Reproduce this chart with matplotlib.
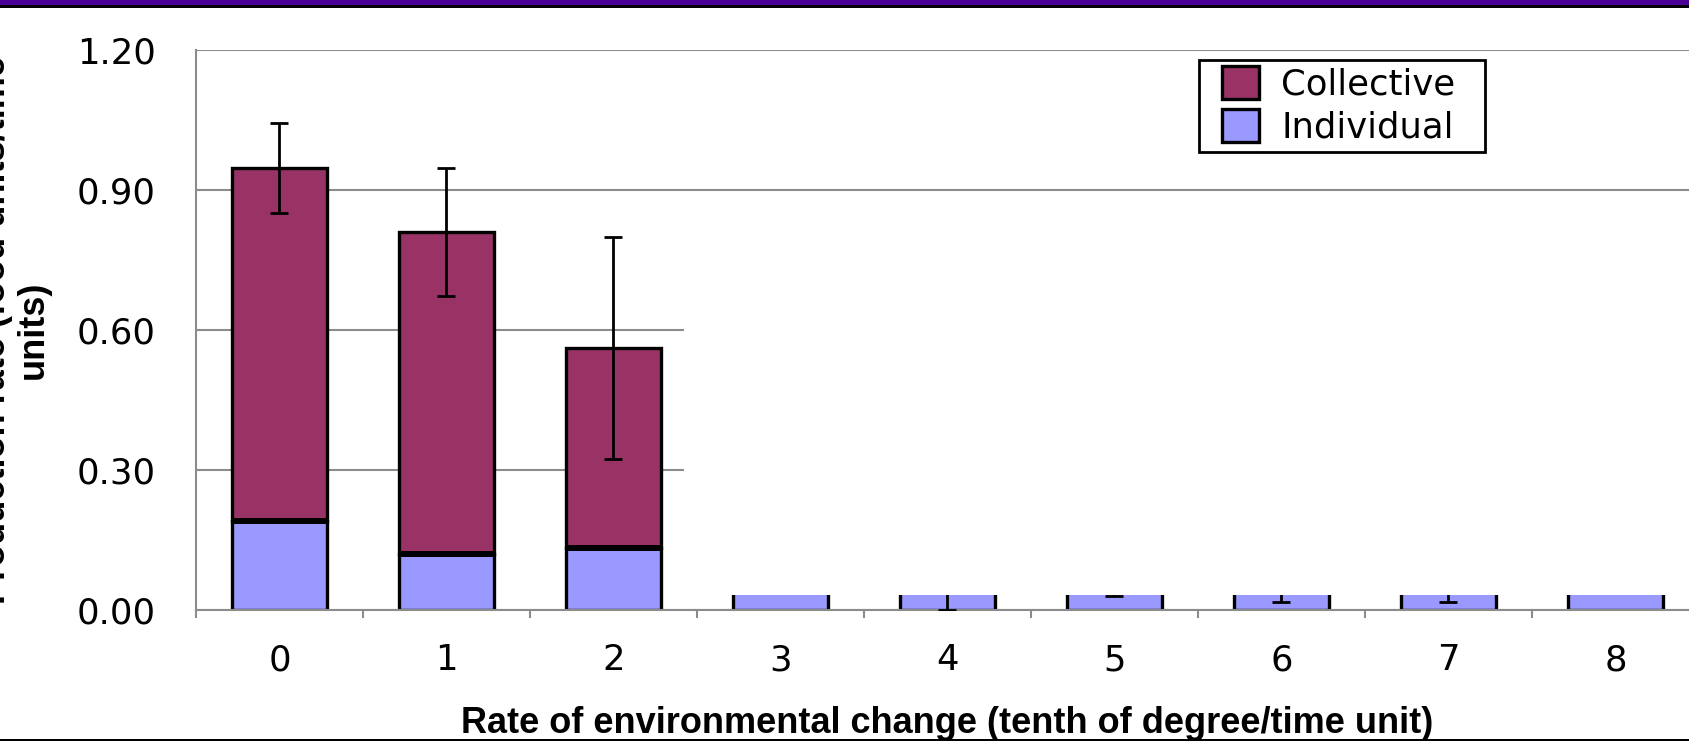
import numpy as np
import matplotlib
matplotlib.use("Agg")
import matplotlib.pyplot as plt
from matplotlib.patches import Rectangle

# values
rates = ["0", "1", "2", "3", "4", "5", "6", "7", "8"]
individual = [0.19, 0.12, 0.132, 0.05, 0.05, 0.05, 0.05, 0.05, 0.05]
collective = [0.757, 0.69, 0.43, 0.0, 0.0, 0.0, 0.0, 0.0, 0.0]
errors = [0.097, 0.137, 0.238, 0.0, 0.05, 0.02, 0.033, 0.033, 0.0]
y_ticks = [0.0, 0.3, 0.6, 0.9, 1.2]

c_coll = "#993366"
c_ind = "#9999FF"
grid_c = "#8c8c8c"

fig = plt.figure(figsize=(16.9, 7.41), dpi=100)
ax = fig.add_axes([196 / 1690, 1 - 610 / 741, 1503 / 1690, 560 / 741])

x = np.arange(len(rates))
ind = np.array(individual)
coll = np.array(collective)
total = ind + coll
w = 0.57
ax.bar(x, ind, w, color=c_ind, edgecolor="black", linewidth=2.4,
       label="Individual", zorder=2)
ax.bar(x, coll, w, bottom=ind, color=c_coll, edgecolor="black",
       linewidth=2.4, label="Collective", zorder=2)
# heavier rule where the two segments meet (Excel style double border)
stacked = coll > 0
ax.hlines(ind[stacked], x[stacked] - w / 2, x[stacked] + w / 2,
          colors="black", linewidth=4.3, zorder=2.5)
ax.errorbar(x, total, yerr=errors, fmt="none", ecolor="black", elinewidth=2,
            capsize=6.8, capthick=2, zorder=3)

ax.set_xlim(-0.5, len(rates) - 0.5)
ax.set_ylim(0, 1.2)
ax.set_yticks(y_ticks)
ax.set_yticklabels([f"{v:.2f}" for v in y_ticks])
ax.set_xticks(x)
ax.set_xticklabels(rates)
ax.set_xticks(np.arange(-0.5, len(rates)), minor=True)
ax.tick_params(axis="y", length=0, pad=29, labelsize=25.5)
ax.tick_params(axis="x", which="major", length=0, pad=24, labelsize=25.5)
ax.tick_params(axis="x", which="minor", length=6, width=1.5, color=grid_c,
               direction="out")
ax.grid(axis="y", color=grid_c, linewidth=1.5, zorder=0.5)
ax.set_axisbelow(True)
for s in ["top", "right"]:
    ax.spines[s].set_visible(False)
for s in ["left", "bottom"]:
    ax.spines[s].set_color(grid_c)
    ax.spines[s].set_linewidth(1.5)

# white overlay on the right part of the slide (hides gridlines there)
ax.add_patch(Rectangle((2.42, 0.032), 7.0, 0.82, facecolor="white",
                       edgecolor="none", zorder=4))

# legend entries without frame, frame drawn separately for wider side padding
ax.add_patch(Rectangle((1199 / 1690, 1 - 152 / 741), 286 / 1690, 92 / 741,
                       transform=fig.transFigure, facecolor="white",
                       edgecolor="black", linewidth=2, zorder=5,
                       clip_on=False))
h, l = ax.get_legend_handles_labels()
leg = ax.legend(h[::-1], l[::-1], loc="upper left",
                bbox_to_anchor=(1222 / 1690, 1 - 66 / 741),
                bbox_transform=fig.transFigure, fontsize=25.5, frameon=False,
                handlelength=1.05, handleheight=1.05, handletextpad=0.62,
                labelspacing=0.22, borderpad=0, borderaxespad=0)
leg.set_zorder(6)
for p in leg.get_patches():
    p.set_linewidth(2.4)

fig.text(947 / 1690, 1 - 733 / 741,
         "Rate of environmental change (tenth of degree/time unit)",
         ha="center", va="baseline", fontsize=26, fontweight="bold",
         family="Liberation Sans")
fig.text(14 / 1690, 1 - 330 / 741, "Production rate (food units/time\nunits)",
         ha="center", va="center", rotation=90, fontsize=26,
         fontweight="bold", family="Liberation Sans", linespacing=1.1)

# slide frame: purple band on top, black rule under it and at the bottom
fig.add_artist(Rectangle((0, 1 - 5 / 741), 1, 5 / 741, transform=fig.transFigure,
                         facecolor="#4b0099", edgecolor="none"))
fig.add_artist(Rectangle((0, 1 - 8 / 741), 1, 3 / 741, transform=fig.transFigure,
                         facecolor="black", edgecolor="none"))
fig.add_artist(Rectangle((0, 0), 1, 2.5 / 741, transform=fig.transFigure,
                         facecolor="black", edgecolor="none"))

fig.savefig("out.png", dpi=100)
